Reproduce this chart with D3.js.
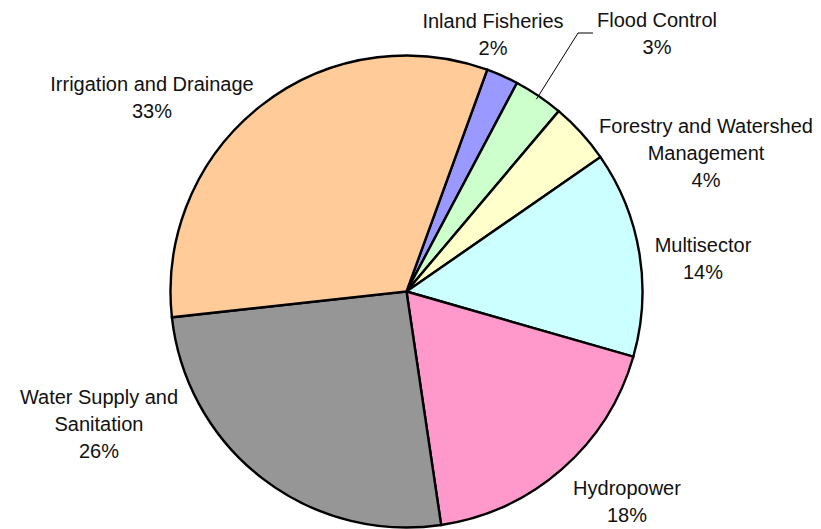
<!DOCTYPE html>
<meta charset="utf-8">
<style>
body { margin: 0; background: #fff; }
.slices path { stroke: #000; stroke-width: 2.4px; }
.labels text { font-family: "Liberation Sans", Arial, sans-serif; font-size: 20px; fill: #111; }
</style>
<svg width="821" height="529"></svg>
<script src="https://d3js.org/d3.v7.min.js"></script>
<script>

// data, clockwise starting from Inland Fisheries
var sectors = ["Inland Fisheries", "Flood Control", "Forestry and Watershed Management",
               "Multisector", "Hydropower", "Water Supply and Sanitation", "Irrigation and Drainage"];
var shares  = [2.2, 3.4, 4.2, 14.1, 18.2, 25.6, 32.3];
var pctLabels = ["2%", "3%", "4%", "14%", "18%", "26%", "33%"];
var labelLines = [
  ["Inland Fisheries"],
  ["Flood Control"],
  ["Forestry and Watershed", "Management"],
  ["Multisector"],
  ["Hydropower"],
  ["Water Supply and", "Sanitation"],
  ["Irrigation and Drainage"]
];
var colors = ["#9999FF", "#CCFFCC", "#FFFFCC", "#CCFFFF", "#FF99CC", "#969696", "#FFCC99"];

// label layout (center x, first baseline y)
var labelPos = [[493, 28], [657, 27], [706, 133], [703, 252], [627, 495], [99, 404], [152, 91]];

var svg = d3.select("svg"),
    cx = 406.5, cy = 291.5, radius = 236;

var startDeg = 20;
var pie = d3.pie()
    .sort(null)
    .value(function(d) { return d; })
    .startAngle(startDeg * Math.PI / 180)
    .endAngle(startDeg * Math.PI / 180 + 2 * Math.PI);

var arc = d3.arc().innerRadius(0).outerRadius(radius);
var arcs = pie(shares);

var g = svg.append("g")
    .attr("class", "slices")
    .attr("transform", "translate(" + cx + "," + cy + ")");

g.selectAll("path")
  .data(arcs)
  .enter().append("path")
    .attr("d", arc)
    .attr("fill", function(d, i) { return colors[i]; });

// leader line for Flood Control
var flood = arcs[1];
var mid = (flood.startAngle + flood.endAngle) / 2;
var px = cx + Math.sin(mid) * (radius - 4),
    py = cy - Math.cos(mid) * (radius - 4);
svg.append("polyline")
  .attr("points", [[px, py], [578, 33], [593, 33]].map(function(p) { return p.join(","); }).join(" "))
  .attr("fill", "none")
  .attr("stroke", "#000")
  .attr("stroke-width", 1);

var lab = svg.append("g").attr("class", "labels");
var lineH = 27;
sectors.forEach(function(s, i) {
  var t = lab.append("text")
    .attr("text-anchor", "middle")
    .attr("x", labelPos[i][0])
    .attr("y", labelPos[i][1]);
  var lines = labelLines[i].concat([pctLabels[i]]);
  lines.forEach(function(l, j) {
    t.append("tspan")
      .attr("x", labelPos[i][0])
      .attr("dy", j === 0 ? 0 : lineH)
      .text(l);
  });
});

</script>
